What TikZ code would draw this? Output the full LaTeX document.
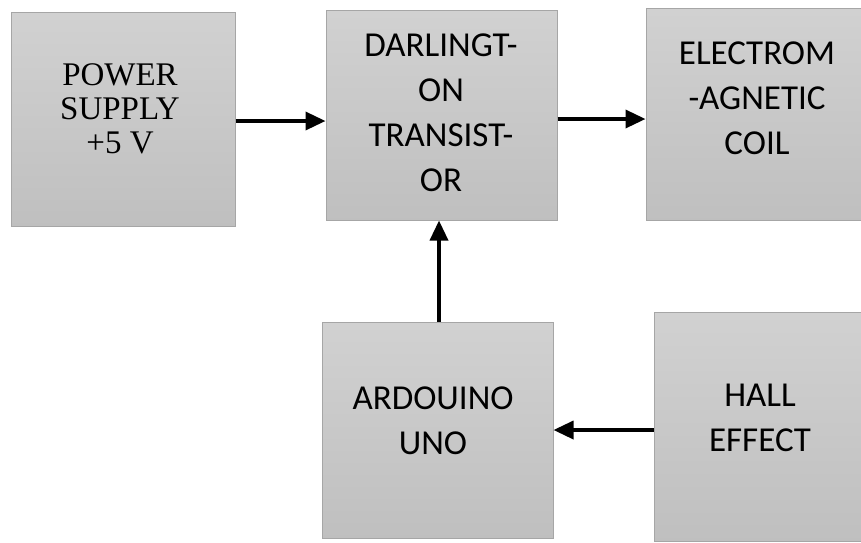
\documentclass[tikz,border=0pt]{standalone}
\usepackage{fontspec}
\setmainfont{Carlito}
\newfontfamily\psfont{Liberation Serif}
\usetikzlibrary{arrows.meta}
\tikzset{
  blockbox/.style={draw=black!35, line width=1pt, top color=black!18, bottom color=black!25, rectangle, inner sep=0pt},
  sanstext/.style={align=center, font=\fontsize{35}{45}\selectfont, inner sep=0pt},
  seriftext/.style={align=center, font=\psfont\fontsize{33}{34}\selectfont, inner sep=0pt},
  arr/.style={line width=3.5pt, -{Triangle[length=20pt,width=18pt]}}
}
\begin{document}
\begin{tikzpicture}[x=1pt,y=-1pt]
\useasboundingbox[fill=white] (0,0) rectangle (861,542);
\node[blockbox, minimum width=224pt, minimum height=214pt] (ps) at (123,119) {};
\node[blockbox, minimum width=231pt, minimum height=210pt] (dar) at (441.5,115) {};
\node[blockbox, minimum width=218pt, minimum height=212pt] (ele) at (755,114) {};
\node[blockbox, minimum width=231pt, minimum height=216pt] (ard) at (437.5,430) {};
\node[blockbox, minimum width=209pt, minimum height=229pt] (hall) at (758.5,426.5) {};
\node[seriftext] (pst) at (120,109) {POWER\\SUPPLY\\+5 V};
\node[sanstext] (dart) at (441,113) {DARLINGT-\\ON\\TRANSIST-\\OR};
\node[sanstext] (elet) at (757,98) {ELECTROM\\-AGNETIC\\COIL};
\node[sanstext] (ardt) at (433,421) {ARDOUINO\\UNO};
\node[sanstext] (hallt) at (760,418) {HALL\\EFFECT};
\draw[arr] ([yshift=-2pt]ps.east) -- ([yshift=-2pt]ps.east -| dar.west);
\draw[arr] ([yshift=-4pt]dar.east) -- ([yshift=-4pt]dar.east -| ele.west);
\draw[arr] ([xshift=1.5pt]ard.north) -- ([xshift=1.5pt]ard.north |- dar.south);
\draw[arr] ([yshift=-3.5pt]hall.west) -- ([yshift=-3.5pt]hall.west -| ard.east);
\end{tikzpicture}
\end{document}
